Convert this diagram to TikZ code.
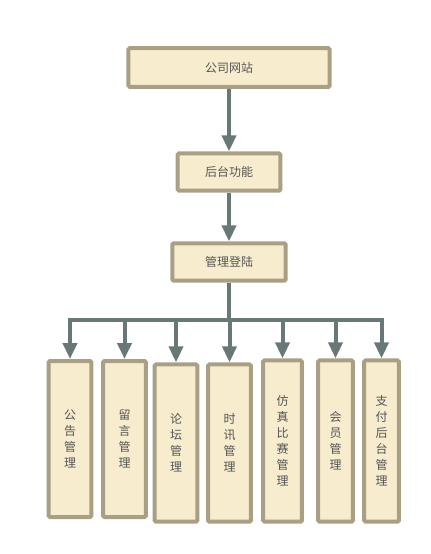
\documentclass[tikz,border=0pt]{standalone}
\usepackage{fontspec}
\setmainfont{Noto Sans CJK SC}
\usepackage{tikz}
\usetikzlibrary{arrows.meta}
\usetikzlibrary{positioning}
\usepackage{color}
\definecolor{cream}{RGB}{247, 236, 205}
\definecolor{khaki}{RGB}{168, 159, 133}
\definecolor{slate}{RGB}{103, 120, 118}
\definecolor{inkgray}{RGB}{85, 85, 85}

\begin{document}
\begin{tikzpicture}[x=0.75pt, y=-0.75pt,
    box/.style={draw=khaki, fill=cream, line width=3pt, rounded corners=1pt,
                inner sep=0pt, text=inkgray, font=\fontsize{9}{12}\selectfont, align=center},
    tallbox/.style={box, minimum height=117pt},
    link/.style={draw=slate, line width=3pt},
    arr/.style={link, -{Triangle[length=12pt, width=10.5pt]}}]
        \useasboundingbox (0,0) rectangle (431,554);
        % upper chain
        \node[box, minimum width=151pt, minimum height=29pt] (site)  at (229, 67.5) {公司网站};
        \node[box, minimum width=77pt,  minimum height=28pt] (admin) at (229, 172)  {后台功能};
        \node[box, minimum width=85pt,  minimum height=28pt] (login) at (229, 262)  {管理登陆};
        % lower row
        \node[tallbox, minimum width=32pt] (notice)  at ( 70,   439) {公\\告\\管\\理};
        \node[tallbox, minimum width=32pt] (message) at (124.5, 439) {留\\言\\管\\理};
        \node[tallbox, minimum width=32pt, minimum height=118pt] (forum) at (176,   443) {论\\坛\\管\\理};
        \node[tallbox, minimum width=32pt, minimum height=118pt] (news)  at (229.5, 443) {时\\讯\\管\\理};
        \node[tallbox, minimum width=29pt, minimum height=121pt] (contest) at (282.5, 441) {仿\\真\\比\\赛\\管\\理};
        \node[tallbox, minimum width=26pt, minimum height=121pt] (member)  at (335.5, 441) {会\\员\\管\\理};
        \node[tallbox, minimum width=26pt, minimum height=121pt] (payment) at (381.5, 441) {支\\付\\后\\台\\管\\理};
        % connectors
        \coordinate (bus) at (229, 320);
        \draw[arr] (site) -- (admin);
        \draw[arr] (admin) -- (login);
        \draw[link] (login.south) -- (bus);
        \foreach \leaf in {notice, message, forum, news, contest, member, payment}
            \draw[arr] (bus) -| (\leaf.north);
\end{tikzpicture}
\end{document}
